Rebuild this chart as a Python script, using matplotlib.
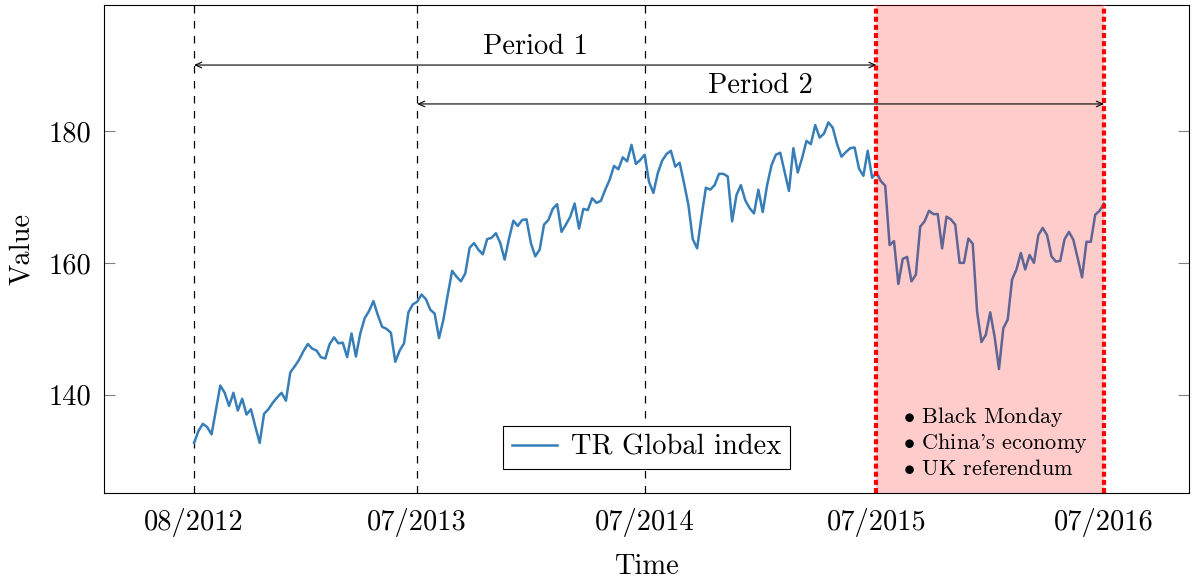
import numpy as np
import matplotlib
matplotlib.use('Agg')
import matplotlib.pyplot as plt

# DATA (weekly index values)
values = [
    132.7, 134.5, 135.6, 135.1, 134.0, 137.7, 141.4, 140.3, 138.3, 140.3,
    137.6, 139.4, 137.0, 137.8, 135.2, 132.7, 137.1, 137.8, 138.8, 139.6,
    140.3, 139.1, 143.4, 144.3, 145.3, 146.6, 147.7, 147.0, 146.7, 145.7,
    145.5, 147.7, 148.7, 147.8, 147.9, 145.7, 149.3, 145.8, 149.3, 151.6,
    152.7, 154.2, 152.1, 150.3, 150.0, 149.4, 145.0, 146.7, 147.8, 152.5,
    153.7, 154.1, 155.2, 154.5, 152.9, 152.3, 148.6, 151.4, 155.2, 158.8,
    157.9, 157.2, 158.4, 162.3, 163.0, 162.0, 161.3, 163.6, 163.8, 164.5,
    163.0, 160.5, 163.7, 166.4, 165.6, 166.5, 166.6, 163.0, 161.0, 162.0,
    165.8, 166.5, 168.2, 168.9, 164.7, 165.8, 167.0, 169.0, 165.2, 168.2,
    168.0, 169.8, 169.1, 169.4, 171.1, 172.6, 174.7, 174.2, 176.0, 175.4,
    177.9, 175.0, 175.6, 176.4, 172.3, 170.6, 173.6, 175.5, 176.5, 177.0,
    174.6, 175.2, 172.1, 168.8, 163.6, 162.2, 167.0, 171.4, 171.1, 171.8,
    173.5, 173.5, 173.1, 166.3, 170.3, 171.8, 169.5, 168.3, 167.5, 171.1,
    167.7, 171.8, 174.8, 176.4, 176.7, 173.8, 170.9, 177.4, 173.7, 175.9,
    178.5, 178.0, 180.9, 179.0, 179.6, 181.3, 180.5, 178.0, 176.1, 176.8,
    177.4, 177.5, 174.3, 173.2, 177.0, 172.9, 173.7, 172.4, 171.7, 162.7,
    163.3, 156.8, 160.6, 160.9, 157.2, 158.2, 165.5, 166.3, 167.9, 167.4,
    167.4, 162.2, 167.0, 166.6, 165.8, 160.0, 160.0, 163.7, 162.9, 152.6,
    148.0, 149.1, 152.5, 148.8, 143.9, 150.1, 151.4, 157.5, 159.0, 161.5,
    159.0, 161.2, 160.0, 164.2, 165.3, 164.2, 161.0, 160.2, 160.3, 163.6,
    164.7, 163.5, 160.7, 157.8, 163.2, 163.2, 167.3, 167.9, 169.0,
]
tick_idx = [0, 51, 103, 156, 208]
tick_labels = ['08/2012', '07/2013', '07/2014', '07/2015', '07/2016']
period_marks = [0, 51, 103]          # black dashed lines
crisis = [156, 208]                  # shaded window
periods = [('Period 1', 0, 156, 190.0), ('Period 2', 51, 208, 184.1)]
events = ['Black Monday', "China's economy", 'UK referendum']

plt.rcParams['font.family'] = 'serif'
plt.rcParams['font.serif'] = ['cmr10']
plt.rcParams['mathtext.fontset'] = 'cm'
plt.rcParams['axes.unicode_minus'] = False

fig = plt.figure(figsize=(11.92, 5.79), dpi=100)
ax = fig.add_axes([0.0872, 0.1485, 0.9105, 0.8428])

x = np.arange(len(values))
ax.plot(x, values, color='#377eb8', lw=1.8, label='TR Global index', zorder=2)

for p in period_marks:
    ax.axvline(p, color='black', lw=0.9, dashes=(6, 6), zorder=1)

ax.axvspan(crisis[0], crisis[1], color='red', alpha=0.2, lw=0, zorder=3)
for c in crisis:
    ax.axvline(c, color='red', lw=3, dashes=(1.2, 0.75), zorder=4)

for name, a, b, yv in periods:
    ax.annotate('', xy=(a, yv), xytext=(b, yv),
                arrowprops=dict(arrowstyle='<->,head_length=0.45,head_width=0.2',
                                color='black', lw=0.8, shrinkA=0, shrinkB=0))
    ax.text((a + b) / 2, yv + 0.8, name, ha='center', va='bottom', fontsize=20.5)

for i, ev in enumerate(events):
    ax.text(162, 136.7 - i * 3.95, r'$\bullet$ ' + ev, ha='left', va='center',
            fontsize=16, zorder=5)

ax.set_xlim(-20.6, 227.5)
ax.set_ylim(125.1, 199.1)
ax.set_xticks(tick_idx)
ax.set_xticklabels(tick_labels)
ax.set_yticks([140, 160, 180])
ax.tick_params(axis='x', length=0, pad=11, labelsize=20.5)
ax.tick_params(axis='y', direction='in', length=8, color='gray',
               right=True, pad=9, labelsize=20.5)
ax.set_xlabel('Time', fontsize=20.5, labelpad=12)
ax.set_ylabel('Value', fontsize=20.5, labelpad=10)

leg = ax.legend(loc='lower center', bbox_to_anchor=(0.5, 0.02), fontsize=20.5,
                fancybox=False, edgecolor='black', framealpha=1,
                handlelength=1.6, handletextpad=0.5, borderpad=0.3)
leg.get_frame().set_linewidth(0.8)

plt.savefig('out.png', dpi=100)
